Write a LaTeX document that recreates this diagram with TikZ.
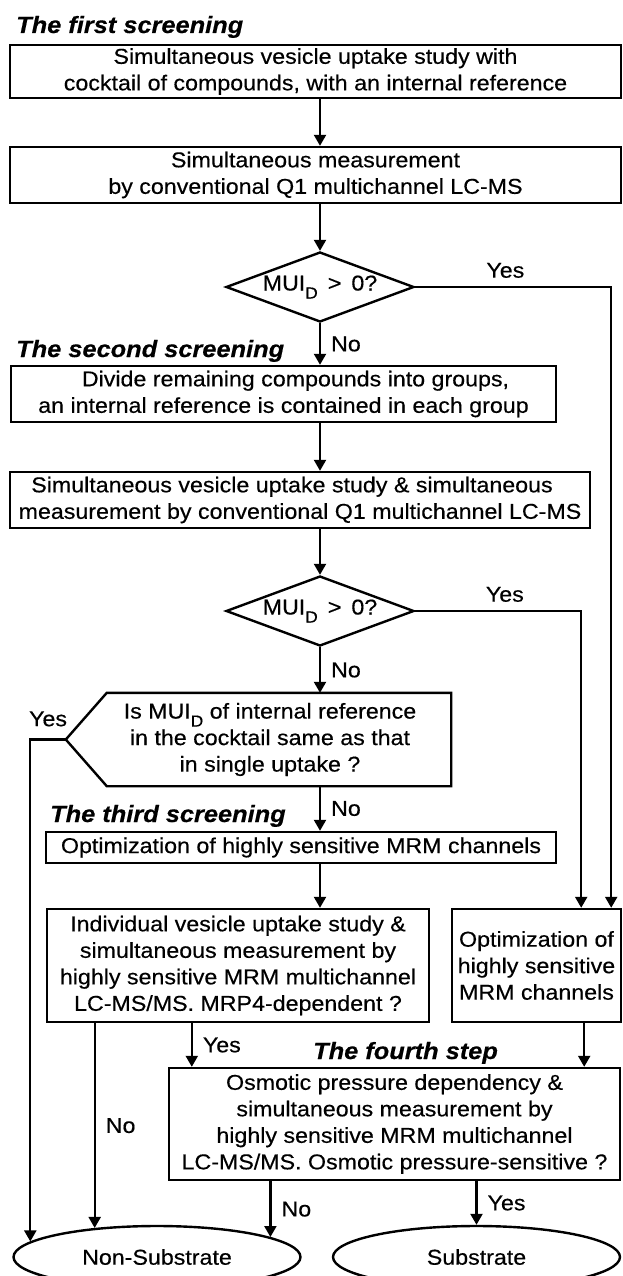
\documentclass[tikz,border=0pt]{standalone}
\usepackage{fontspec}
\setmainfont{Liberation Sans}[FakeStretch=1.08, FakeBold=0.4]
\usetikzlibrary{shapes.geometric,arrows.meta,positioning}
\newcommand{\subtxt}[1]{\raisebox{-8pt}{\fontsize{16}{16}\selectfont #1}}
\begin{document}
\begin{tikzpicture}[x=1pt, y=-1pt, >={Triangle[length=11pt,width=12pt]},
  txt/.style={font=\fontsize{21.5}{26.5}\selectfont},
  box/.style={txt, draw, line width=2.4pt, align=center, inner sep=0pt},
  title/.style={font=\fontsize{23.5}{28}\selectfont\bfseries\itshape, anchor=base west, inner sep=0pt},
  dec/.style={txt, draw, diamond, line width=2.4pt, aspect=2.7, minimum width=188pt, minimum height=70pt, inner sep=0pt},
  term/.style={txt, draw, ellipse, line width=2.4pt, minimum width=287pt, minimum height=62pt, inner sep=0pt},
  lbl/.style={txt, inner sep=2pt},
  arr/.style={->, line width=2.2pt}]
\useasboundingbox (0,0) rectangle (622,1276);
\clip (0,0) rectangle (622,1276);
\node[title] (t1) at (16,33) {The first screening};
\node[box, minimum width=611pt, minimum height=53pt] (b1) at (315.5,71.5)
  {Simultaneous vesicle uptake study with\\cocktail of compounds, with an internal reference};
\node[box, minimum width=611pt, minimum height=56pt] (b2) at (315.5,175)
  {Simultaneous measurement\\by conventional Q1 multichannel LC-MS};
\node[dec] (d1) at (320,287) {MUI\subtxt{D} \,>\, 0?};
\node[title] (t2) at (16,357) {The second screening};
\node[box, minimum width=545pt, minimum height=56pt] (b3) at (283.5,394)
  {\hspace*{24pt}Divide remaining compounds into groups,\\an internal reference is contained in each group};
\node[box, minimum width=580pt, minimum height=56pt] (b4) at (300,500)
  {Simultaneous vesicle uptake study \& simultaneous\hspace*{16pt}\\measurement by conventional Q1 multichannel LC-MS};
\node[dec] (d2) at (320,611) {MUI\subtxt{D} \,>\, 0?};
\node[txt, align=center, minimum width=362pt, minimum height=93pt, inner sep=0pt] (hex) at (270,739.5)
  {Is MUI\subtxt{D} of internal reference\\in the cocktail same as that\\in single uptake ?};
\coordinate (tip) at ([xshift=-23pt]hex.west);
\draw[line width=2.4pt] ([xshift=18pt]hex.north west) -- (hex.north east) -- (hex.south east)
  -- ([xshift=18pt]hex.south west) -- (tip) -- cycle;
\node[title] (t3) at (50,822) {The third screening};
\node[box, minimum width=510pt, minimum height=31pt] (b5) at (301,847.5)
  {Optimization of highly sensitive MRM channels};
\node[box, minimum width=382pt, minimum height=113pt] (b6) at (238,965.5)
  {Individual vesicle uptake study \&\\simultaneous measurement by\\highly sensitive MRM multichannel\\LC-MS/MS. MRP4-dependent ?};
\node[box, minimum width=169pt, minimum height=113pt] (b7) at (536.5,965.5)
  {Optimization of\\highly sensitive\\MRM channels};
\node[title] (t4) at (313,1059) {The fourth step};
\node[box, minimum width=451pt, minimum height=112pt] (b8) at (394.5,1124)
  {Osmotic pressure dependency \&\\simultaneous measurement by\\highly sensitive MRM multichannel\\LC-MS/MS. Osmotic pressure-sensitive ?};
\node[term] (ns) at (157,1257) {Non-Substrate};
\node[term] (ss) at (476.5,1257) {Substrate};

\coordinate (yesR) at ([xshift=-11pt]b7.north east);
\coordinate (yesL) at ([xshift=-41pt]b7.north east);
\coordinate (yesB) at ([xshift=24pt]b8.north west);
\coordinate (b7out) at ([xshift=-38pt]b7.south east);

\draw[arr] (b1.south -| d1.north) -- (b2.north -| d1.north);
\draw[arr] (b2.south -| d1.north) -- (d1.north);
\draw[arr] (d1.east) -| node[lbl, above=6pt, pos=0.23]{Yes} (yesR);
\draw[arr] (d1.south) -- node[lbl, right=8pt]{No} (b3.north -| d1.south);
\draw[arr] (b3.south -| d1.north) -- (b4.north -| d1.north);
\draw[arr] (b4.south -| d1.north) -- (d2.north);
\draw[arr] (d2.east) -| node[lbl, above=6pt, pos=0.27]{Yes} (yesL);
\draw[arr] (d2.south) -- node[lbl, right=8pt]{No} (hex.north -| d2.south);
\draw[arr] (tip) -| node[lbl, above=10pt, pos=0.25]{Yes} (ns.173.6);
\draw[arr] (hex.south -| d2.south) -- node[lbl, right=8pt]{No} (b5.north -| d2.south);
\draw[arr] (b5.south -| d2.south) -- (b6.north -| d2.south);
\draw[arr] (b6.south -| ns.155.7) -- node[lbl, right=8pt]{No} (ns.155.7);
\draw[arr] (yesB |- b6.south) -- node[lbl, right=8pt]{Yes} (yesB);
\draw[arr] (b7out) -- (b7out |- b8.north);
\draw[arr] (b8.south -| ns.10.7) -- node[lbl, right=8pt]{No} (ns.10.7);
\draw[arr] (b8.south -| ss.north) -- node[lbl, right=8pt]{Yes} (ss.north);
\end{tikzpicture}
\end{document}
